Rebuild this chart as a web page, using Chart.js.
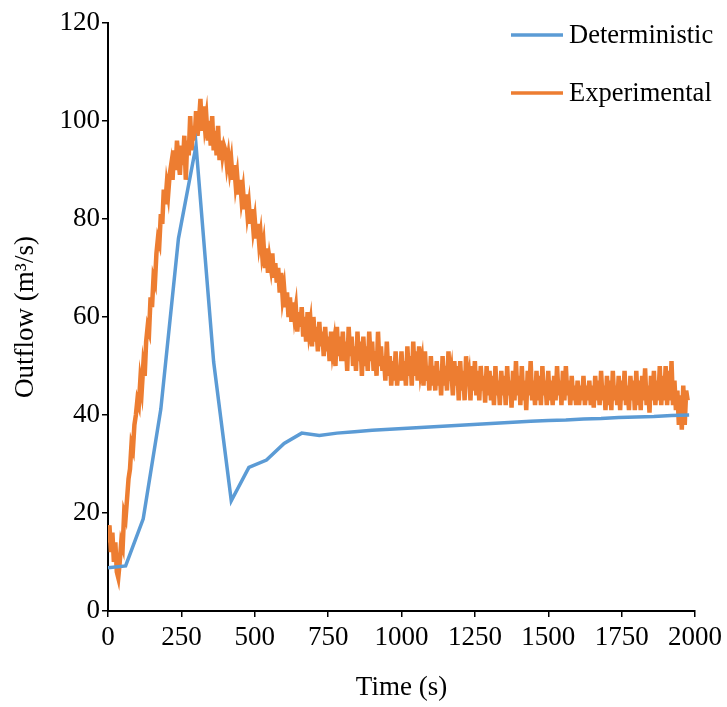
<!DOCTYPE html>
<html>
<head>
<meta charset="utf-8">
<script src="https://cdn.jsdelivr.net/npm/chart.js@4.4.1/dist/chart.umd.min.js"></script>
<style>
  html, body { margin: 0; padding: 0; background: #fff; }
  #wrap { width: 727px; height: 707px; }
</style>
</head>
<body>
<div id="wrap"><canvas id="plot"></canvas></div>
<script>
const xTicks = [0, 250, 500, 750, 1000, 1250, 1500, 1750, 2000];
const yTicks = [0, 20, 40, 60, 80, 100, 120];

const detTime = [0, 60, 120, 180, 240, 300, 360, 420, 480, 540, 600, 660, 720,
  780, 840, 900, 960, 1020, 1080, 1140, 1200, 1260, 1320, 1380, 1440, 1500,
  1560, 1620, 1680, 1740, 1800, 1860, 1920, 1980];
const detFlow = [8.8, 9.2, 18.8, 41.2, 76, 95, 50.8, 22.5, 29.3, 30.8, 34.2, 36.3, 35.8,
  36.3, 36.6, 36.9, 37.1, 37.3, 37.5, 37.7, 37.9, 38.1, 38.3, 38.5, 38.7, 38.9,
  39.0, 39.2, 39.3, 39.5, 39.6, 39.7, 39.9, 40.0];

// experimental record, one sample every 5 s from t = 0
const expStep = 5;
const expFlow = [
  14, 17.5, 12, 16, 10, 14, 8, 6.8, 10, 14, 13, 20, 19, 23, 27, 29, 34, 33, 38, 40,
  43, 42, 47, 45, 50, 48, 55, 58, 57, 64, 62, 68, 67, 73, 76, 75, 81, 79, 86, 83,
  87, 85, 89, 91, 88, 94, 90, 96, 92, 89, 95, 91, 97, 88, 96, 93, 101, 94, 99, 96,
  102, 97, 100, 104.5, 98, 103, 99, 101, 96, 100, 95, 101, 94, 98, 93, 99, 92, 96, 93, 95,
  94, 91, 93, 90, 92, 88, 91, 87, 89, 85, 88, 84, 86, 82, 85, 81, 83, 79, 82, 78,
  80, 76, 79, 75, 77, 73, 75, 70, 74, 69, 72, 70, 73, 68, 71, 67, 70, 65, 69, 64,
  66, 62, 65, 60, 64, 59, 63, 60, 62, 57, 61, 58, 62, 56, 60, 55, 61, 57, 59, 54,
  60, 55, 58, 53, 59, 54, 57, 52, 58, 53, 56, 51, 57, 53, 55, 50, 58, 52, 56, 51,
  57, 51, 55, 49, 58, 52, 56, 50, 54, 49, 57, 51, 55, 48, 56, 50, 54, 49, 57, 51,
  55, 49, 53, 48, 57, 50, 54, 49, 52, 47, 55, 48, 52, 46, 51, 47, 53, 46, 50, 47,
  53, 47, 51, 46, 54, 48, 52, 46, 55, 48, 53, 47, 54, 49, 51, 46, 53, 47, 50, 45,
  52, 46, 50, 45, 51, 46, 49, 44, 52, 46, 50, 45, 53, 47, 49, 44, 51, 46, 50, 43,
  51, 45, 49, 43, 52, 46, 48, 43, 50, 45, 51, 44, 49, 43, 50, 45, 48, 42.5, 50, 44,
  49, 43, 48, 42, 50, 44, 47, 42, 49, 44, 48, 42, 50, 44, 47, 41.5, 49, 43, 51, 44,
  48, 42, 50, 43, 47, 41, 49, 44, 51, 43, 47, 42, 49, 43, 48, 42, 50, 44, 47, 42,
  49, 43, 47, 42, 48, 43, 50, 44, 47, 42, 49, 43, 50, 44, 47, 42, 48, 43, 46, 42,
  47, 42, 46, 43, 48, 42, 46, 43, 47, 42, 46, 41.5, 48, 43, 47, 42, 49, 43, 46, 41,
  48, 42, 47, 41, 49, 43, 46, 42, 48, 41, 47, 43, 49, 42, 46, 41, 48, 43, 47, 41,
  49, 42, 47, 41, 48, 43, 49.5, 42, 46, 40.5, 48, 43, 49, 42, 47, 43, 50, 42, 48, 43,
  50, 42, 49, 43, 51, 42, 47, 41, 45, 38, 44, 37, 46, 38, 45, 43
];

const serif = "'Liberation Serif', 'Times New Roman', serif";

const legendInside = {
  id: "legend_inside",
  afterDraw: (chart) => {
    const ctx = chart.ctx;
    ctx.save();
    ctx.font = "26.5px " + serif;
    ctx.textBaseline = "middle";
    chart.data.datasets.forEach((ds, i) => {
      const y = 35 + i * 58;
      ctx.strokeStyle = ds.borderColor;
      ctx.lineWidth = 3.5;
      ctx.beginPath();
      ctx.moveTo(511, y);
      ctx.lineTo(563, y);
      ctx.stroke();
      ctx.fillStyle = "#000";
      ctx.fillText(ds.label, 569, y + 1);
    });
    ctx.restore();
  },
};

const axisStyle = {
  grid: { display: true, drawOnChartArea: false, tickLength: 6, color: "#000", lineWidth: 1.5 },
  border: { color: "#000", width: 2 },
};

const chart = new Chart(document.getElementById("plot"), {
  type: "line",
  plugins: [legendInside],
  data: {
    datasets: [
      {
        label: "Deterministic",
        data: detTime.map((t, i) => ({ x: t, y: detFlow[i] })),
        borderColor: "#5B9BD5",
        backgroundColor: "#5B9BD5",
        borderWidth: 3.5,
        pointRadius: 0,
        tension: 0,
      },
      {
        label: "Experimental",
        data: expFlow.map((v, i) => ({ x: i * expStep, y: v })),
        borderColor: "#ED7D31",
        backgroundColor: "#ED7D31",
        borderWidth: 4.5,
        pointRadius: 0,
        tension: 0,
      },
    ],
  },
  options: {
    animation: false,
    responsive: true,
    maintainAspectRatio: false,
    devicePixelRatio: 1,
    layout: { padding: { top: 23, right: 30, left: 0, bottom: 0 } },
    plugins: { legend: { display: false }, tooltip: { enabled: false } },
    scales: {
      x: {
        type: "linear",
        min: 0,
        max: 2000,
        ...axisStyle,
        afterBuildTicks: (axis) => { axis.ticks = xTicks.map((v) => ({ value: v })); },
        afterFit: (axis) => { axis.height = 96; },
        ticks: { color: "#000", font: { family: serif, size: 27 }, padding: 5, maxRotation: 0, autoSkip: false,
          callback: (v) => String(v) },
        title: { display: true, text: "Time (s)", color: "#000", font: { family: serif, size: 27 }, padding: { top: 0, bottom: 3 } },
      },
      y: {
        type: "linear",
        min: 0,
        max: 120,
        ...axisStyle,
        afterBuildTicks: (axis) => { axis.ticks = yTicks.map((v) => ({ value: v })); },
        afterFit: (axis) => { axis.width = 108; },
        ticks: { color: "#000", font: { family: serif, size: 27 }, padding: 2, callback: (v) => String(v) },
        title: { display: true, text: "Outflow (m³/s)", color: "#000", font: { family: serif, size: 27 }, padding: { top: 10, bottom: 0 } },
      },
    },
  },
});
</script>
</body>
</html>
